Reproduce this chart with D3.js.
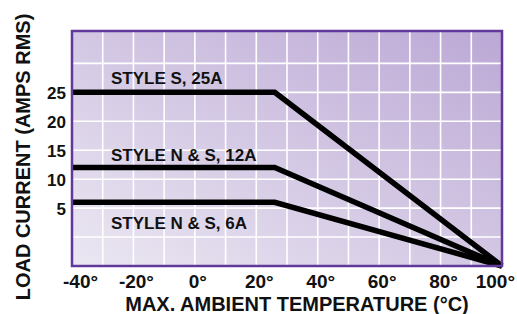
<!DOCTYPE html>
<html>
<head>
<meta charset="utf-8">
<script src="https://cdn.jsdelivr.net/npm/d3@7"></script>
<style>
  body { margin: 0; background: #fff; }
  text { font-family: "Liberation Sans", Arial, sans-serif; font-weight: bold; fill: #111; }
</style>
</head>
<body>
<div id="chart"></div>
<script>
// data
const temps = [-40, 26, 100];            // knee and end points (deg C)
const seriesNames = ["STYLE S, 25A", "STYLE N & S, 12A", "STYLE N & S, 6A"];
const s25 = [25, 25, -5];
const s12 = [12, 12, -5];
const s6  = [6, 6, -5];
const xTicks = [-40, -20, 0, 20, 40, 60, 80, 100];
const yTicks = [5, 10, 15, 20, 25];
const xGrid = [-30, -20, -10, 0, 10, 20, 30, 40, 50, 60, 70, 80, 90];
const yGrid = [0, 5, 10, 15, 20, 25, 30];

const W = 517, H = 314;
const margin = { top: 31, right: 15, bottom: 48, left: 72 };
const width = W - margin.left - margin.right,
      height = H - margin.top - margin.bottom;

const svg = d3.select("#chart").append("svg")
    .attr("width", W)
    .attr("height", H);

const x = d3.scaleLinear().domain([-40, 100]).range([0, width]);
const y = d3.scaleLinear().domain([-5, 35.6]).range([height, 0]);

// background gradient, light bottom-left to darker top-right
const grad = svg.append("defs").append("linearGradient")
    .attr("id", "bg")
    .attr("x1", "0%").attr("y1", "100%")
    .attr("x2", "100%").attr("y2", "0%");
grad.append("stop").attr("offset", "0%").attr("stop-color", "#ebe7f2");
grad.append("stop").attr("offset", "100%").attr("stop-color", "#bba8d5");

const g = svg.append("g")
    .attr("transform", `translate(${margin.left},${margin.top})`);

g.append("rect")
    .attr("width", width)
    .attr("height", height)
    .attr("fill", "url(#bg)");

// grid
g.selectAll(".vgrid").data(xGrid).join("line")
    .attr("x1", d => x(d)).attr("x2", d => x(d))
    .attr("y1", 0).attr("y2", height)
    .attr("stroke", "#fff").attr("stroke-width", 1.6);
g.selectAll(".hgrid").data(yGrid).join("line")
    .attr("y1", d => y(d)).attr("y2", d => y(d))
    .attr("x1", 0).attr("x2", width)
    .attr("stroke", "#fff").attr("stroke-width", 1.6);

// series lines
const line = d3.line()
    .x((d, i) => x(temps[i]))
    .y(d => y(d));

g.selectAll(".series").data([s25, s12, s6]).join("path")
    .attr("d", line)
    .attr("fill", "none")
    .attr("stroke", "#000")
    .attr("stroke-width", 5.5)
    .attr("stroke-linejoin", "miter");

// series labels sit just above their lines
const labelY = [84, 161, 229];
g.selectAll(".lbl").data(seriesNames).join("text")
    .attr("x", 111 - margin.left)
    .attr("y", (d, i) => labelY[i] - margin.top)
    .style("font-size", "17px")
    .text(d => d);

// frame
g.append("rect")
    .attr("width", width)
    .attr("height", height)
    .attr("fill", "none")
    .attr("stroke", "#63389b")
    .attr("stroke-width", 2.5);

// y tick labels
g.selectAll(".ytick").data(yTicks).join("text")
    .attr("x", -6)
    .attr("y", d => y(d))
    .attr("dy", "0.4em")
    .attr("text-anchor", "end")
    .style("font-size", "17px")
    .text(d => d);

// x tick labels, kept inside the picture at both ends
const xt = g.selectAll(".xtick").data(xTicks).join("text")
    .attr("y", height + 22)
    .attr("text-anchor", "middle")
    .style("font-size", "19px")
    .text(d => d + "°");
xt.attr("x", function(d) {
  const half = this.getComputedTextLength() / 2;
  const cx = x(d) + 3;
  return Math.max(-9 + half, Math.min(W - margin.left - 2 - half, cx));
});

// axis titles
svg.append("text")
    .attr("x", 297)
    .attr("y", 311)
    .attr("text-anchor", "middle")
    .style("font-size", "20px")
    .text("MAX. AMBIENT TEMPERATURE (°C)");

svg.append("text")
    .attr("transform", "translate(30,157) rotate(-90)")
    .attr("text-anchor", "middle")
    .style("font-size", "20px")
    .text("LOAD CURRENT (AMPS RMS)");
</script>
</body>
</html>
